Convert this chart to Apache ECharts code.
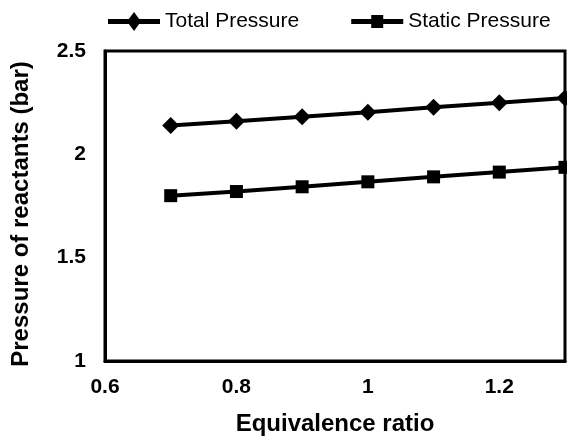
<!DOCTYPE html>
<html>
<head>
<meta charset="utf-8">
<script src="https://cdn.jsdelivr.net/npm/echarts@6/dist/echarts.min.js"></script>
<style>
  html, body { margin: 0; padding: 0; background: #fff; }
  #chart { width: 567px; height: 445px; }
</style>
</head>
<body>
<div id="chart"></div>
<script>
// 当量比
var ratios = [0.7, 0.8, 0.9, 1.0, 1.1, 1.2, 1.3];
var totalPressure = [2.14, 2.16, 2.182, 2.204, 2.228, 2.25, 2.272];
var staticPressure = [1.8, 1.82, 1.843, 1.867, 1.891, 1.914, 1.937];

var font = 'Liberation Sans, Arial, sans-serif';

// legend icons: line with a marker in the middle
var diamondIcon = 'path://M0,7 L20.84,7 L26,0 L31.16,7 L52,7 L52,12 L31.16,12 L26,19 L20.84,12 L0,12 Z';
var squareIcon = 'path://M0,4 L20,4 L20,0 L32,0 L32,4 L52,4 L52,9 L32,9 L32,13 L20,13 L20,9 L0,9 Z';

function pairs(xs, ys) {
    return xs.map(function (x, i) { return [x, ys[i]]; });
}

var myChart = echarts.init(document.getElementById('chart'));
myChart.setOption({
    backgroundColor: '#fff',
    animation: false,
    legend: {
        top: 6,
        left: 103,
        itemWidth: 52,
        itemHeight: 19,
        itemGap: 52,
        textStyle: { fontFamily: font, fontSize: 21, color: '#000' },
        data: [
            { name: 'Total Pressure', icon: diamondIcon },
            { name: 'Static Pressure', icon: squareIcon }
        ]
    },
    grid: {
        left: 105, right: 2, top: 51, bottom: 84,
        show: true,
        borderColor: '#000',
        borderWidth: 3
    },
    xAxis: {
        type: 'value',
        min: 0.6,
        max: 1.3,
        interval: 0.2,
        name: 'Equivalence ratio',
        nameLocation: 'middle',
        nameGap: 51,
        nameTextStyle: { fontFamily: font, fontSize: 24, fontWeight: 'bold', color: '#000' },
        axisLine: { lineStyle: { color: '#000', width: 3 } },
        axisTick: { show: false },
        splitLine: { show: false },
        axisLabel: {
            fontFamily: font, fontSize: 21, fontWeight: 'bold', color: '#000',
            margin: 16, showMaxLabel: false
        }
    },
    yAxis: {
        type: 'value',
        min: 1,
        max: 2.5,
        interval: 0.5,
        name: 'Pressure of reactants (bar)',
        nameLocation: 'middle',
        nameGap: 72,
        nameTextStyle: {
            fontFamily: font, fontSize: 24, fontWeight: 'bold', color: '#000',
            padding: [0, 16, 0, 0]
        },
        axisLine: { lineStyle: { color: '#000', width: 3 } },
        axisTick: { show: false },
        splitLine: { show: false },
        axisLabel: {
            fontFamily: font, fontSize: 21, fontWeight: 'bold', color: '#000',
            margin: 19
        }
    },
    series: [{
        name: 'Total Pressure',
        type: 'line',
        data: pairs(ratios, totalPressure),
        symbol: 'diamond',
        symbolSize: [17, 17],
        lineStyle: { color: '#000', width: 4 },
        itemStyle: { color: '#000' }
    }, {
        name: 'Static Pressure',
        type: 'line',
        data: pairs(ratios, staticPressure),
        symbol: 'rect',
        symbolSize: [13, 13],
        lineStyle: { color: '#000', width: 4 },
        itemStyle: { color: '#000' }
    }]
});
</script>
</body>
</html>
